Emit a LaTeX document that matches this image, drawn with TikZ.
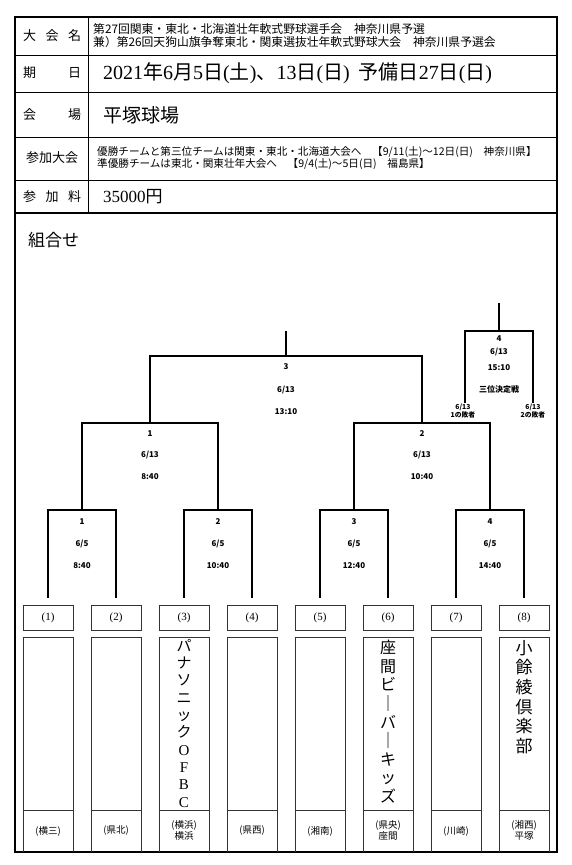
\documentclass[tikz,border=0pt]{standalone}
\usepackage{fontspec}
\setmainfont{Liberation Serif}
\newfontfamily\jp{Noto Sans CJK JP}
\tikzset{
  every picture/.style={x=1pt,y=-1pt},
  frame/.style={line width=1.1pt,black},
  grid/.style={line width=0.9pt,black},
  brk/.style={line width=1.1pt,black},
  tbox/.style={draw=black!80,line width=0.7pt},
  lbl/.style={font=\jp\fontsize{13}{15}\selectfont,anchor=west,inner sep=0},
  cell/.style={anchor=west,inner sep=0,align=left},
  bt/.style={font=\jp\bfseries\fontsize{8}{9}\selectfont,inner sep=0},
  num/.style={font=\fontsize{11}{13}\selectfont,inner sep=0},
  reg/.style={font=\jp\fontsize{9.5}{11}\selectfont,inner sep=0,align=center},
}
\begin{document}
\begin{tikzpicture}
\useasboundingbox (0,0) rectangle (572,865);
% outer frame and table
\draw[frame] (15,17) rectangle (557,852);
\draw[grid] (15,55) -- (557,55);
\draw[grid] (15,92) -- (557,92);
\draw[grid] (15,137) -- (557,137);
\draw[grid] (15,180) -- (557,180);
\draw[frame] (15,213) -- (557,213);
\draw[grid] (88,17) -- (88,213);
% labels
\node[lbl] (l1) at (23,36) {\makebox[58pt]{大\hfill 会\hfill 名}};
\node[lbl] (l2) at (23,73) {\makebox[58pt]{期\hfill 日}};
\node[lbl] (l3) at (23,115) {\makebox[58pt]{会\hfill 場}};
\node[lbl] (l4) at (23,158) {\makebox[58pt]{参加大会}};
\node[lbl] (l5) at (23,197) {\makebox[58pt]{参\hfill 加\hfill 料}};
% contents
\node[cell,font=\jp\fontsize{11.8}{13}\selectfont] (c1) at (93,36)
  {第27回関東・東北・北海道壮年軟式野球選手会　神奈川県予選\\兼）第26回天狗山旗争奪東北・関東選抜壮年軟式野球大会　神奈川県予選会};
\node[cell,font=\jp\fontsize{20}{23}\selectfont] (c2) at (103,73)
  {{\rmfamily 2021}年{\rmfamily 6}月{\rmfamily 5}日{\rmfamily (}土{\rmfamily )}、{\rmfamily 13}日{\rmfamily (}日{\rmfamily )}\ \ 予備日{\rmfamily 27}日{\rmfamily (}日{\rmfamily )}};
\node[cell,font=\jp\fontsize{19}{22}\selectfont] (c3) at (103,115) {平塚球場};
\node[cell,font=\jp\fontsize{10.6}{12.5}\selectfont] (c4) at (97,158)
  {優勝チームと第三位チームは関東・東北・北海道大会へ　【9/11(土)～12日(日)　神奈川県】\\準優勝チームは東北・関東壮年大会へ　【9/4(土)～5日(日)　福島県】};
\node[cell,font=\jp\fontsize{17}{20}\selectfont] (c5) at (103,197) {{\rmfamily 35000}円};
\node[cell,font=\jp\fontsize{17}{20}\selectfont] (title) at (28,240) {組合せ};
% bracket coordinates
\foreach \i/\x in {1/48,2/116,3/184,4/252,5/320,6/388,7/456,8/524}{
  \coordinate (leaf\i) at (\x,598);
}
\coordinate (m1) at (82,510);
\coordinate (m2) at (218,510);
\coordinate (m3) at (354,510);
\coordinate (m4) at (490,510);
\coordinate (n1) at (150,423);
\coordinate (n2) at (422,423);
\coordinate (f) at (286,356);
\coordinate (ftop) at (286,331);
\coordinate (tl) at (465,403);
\coordinate (tr) at (533,403);
\coordinate (tc) at (499,331);
\coordinate (ttop) at (499,303);
\draw[brk] (leaf1) |- (m1) -| (leaf2);
\draw[brk] (leaf3) |- (m2) -| (leaf4);
\draw[brk] (leaf5) |- (m3) -| (leaf6);
\draw[brk] (leaf7) |- (m4) -| (leaf8);
\draw[brk] (m1) |- (n1) -| (m2);
\draw[brk] (m3) |- (n2) -| (m4);
\draw[brk] (n1) |- (f) -| (n2);
\draw[brk] (f) -- (ftop);
\draw[brk] (tl) |- (tc) -| (tr);
\draw[brk] (tc) -- (ttop);
% round 1 texts
\foreach \k/\x/\t in {1/82/8:40,2/218/10:40,3/354/12:40,4/490/14:40}{
  \node[bt] (ra\k) at (\x,522) {\k};
  \node[bt] (rb\k) at (\x,544) {6/5};
  \node[bt] (rc\k) at (\x,566) {\t};
}
% round 2 texts
\node[bt] (sa1) at (150,434) {1};
\node[bt] (sb1) at (150,455) {6/13};
\node[bt] (sc1) at (150,477) {8:40};
\node[bt] (sa2) at (422,434) {2};
\node[bt] (sb2) at (422,455) {6/13};
\node[bt] (sc2) at (422,477) {10:40};
% final
\node[bt] (fa) at (286,367) {3};
\node[bt] (fb) at (286,390) {6/13};
\node[bt] (fc) at (286,412) {13:10};
% third place
\node[bt] (ta) at (499,339) {4};
\node[bt] (tb) at (499,352) {6/13};
\node[bt] (tcx) at (499,368) {15:10};
\node[bt] (td) at (499,389) {三位決定戦};
\node[bt,font=\jp\bfseries\fontsize{6.8}{8}\selectfont,align=center] (tl1) at (463,411) {6/13\\1の敗者};
\node[bt,font=\jp\bfseries\fontsize{6.8}{8}\selectfont,align=center] (tr1) at (533,411) {6/13\\2の敗者};
% team boxes
\foreach \i/\x in {1/48,2/116,3/184,4/252,5/320,6/388,7/456,8/524}{
  \node[tbox,minimum width=50pt,minimum height=25pt,inner sep=0] (nb\i) at (\x,617.5) {};
  \node[num] (nt\i) at (\x,617.5) {(\i)};
  \draw[tbox] (\x-25,852) -- (\x-25,637) -- (\x+25,637) -- (\x+25,852);
  \draw[tbox] (\x-25,810) -- (\x+25,810);
}
% team names (vertical)
\node[font=\jp\fontsize{15}{17.3}\selectfont,align=center,anchor=north,inner sep=0] (tn3) at (184,639)
  {パ\\ナ\\ソ\\ニ\\ッ\\ク\\{\rmfamily O}\\{\rmfamily F}\\{\rmfamily B}\\{\rmfamily C}};
\node[font=\jp\fontsize{16}{18.6}\selectfont,align=center,anchor=north,inner sep=0] (tn6) at (388,640)
  {座\\間\\ビ\\｜\\バ\\｜\\キ\\ッ\\ズ};
\node[font=\jp\fontsize{17}{19.6}\selectfont,align=center,anchor=north,inner sep=0] (tn8) at (524,640)
  {小\\餘\\綾\\倶\\楽\\部};
% regions
\node[reg] (rg1) at (48,831) {(横三)};
\node[reg] (rg2) at (116,831) {(県北)};
\node[reg] (rg3) at (184,830) {(横浜)\\横浜};
\node[reg] (rg4) at (252,831) {(県西)};
\node[reg] (rg5) at (320,831) {(湘南)};
\node[reg] (rg6) at (388,830) {(県央)\\座間};
\node[reg] (rg7) at (456,831) {(川崎)};
\node[reg] (rg8) at (524,830) {(湘西)\\平塚};
\end{tikzpicture}
\end{document}
